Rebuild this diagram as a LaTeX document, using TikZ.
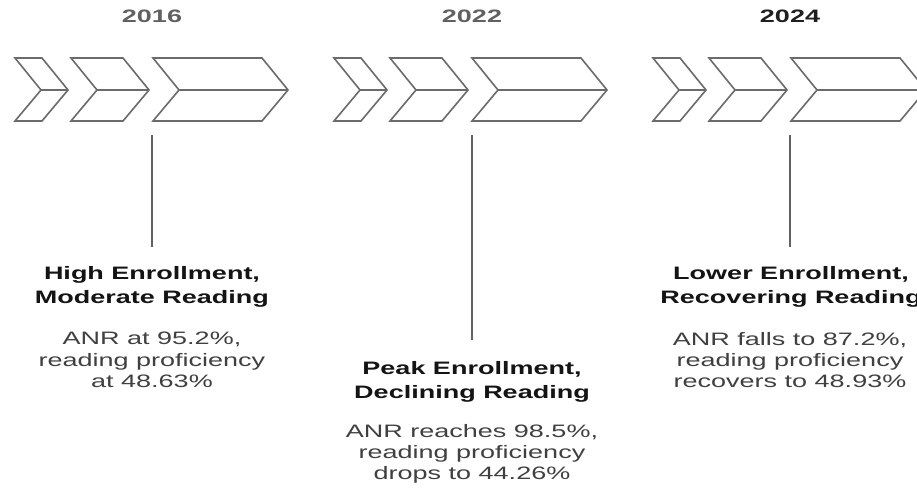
\documentclass[tikz,border=0pt]{standalone}
\usepackage{fontspec}
\setmainfont[FakeStretch=1.5]{Liberation Sans}
\begin{document}
\begin{tikzpicture}[x=1pt,y=-1pt,
  chev/.style={draw=black!58, line width=1.6pt, line join=miter},
  midln/.style={draw=black!58, line width=1.5pt},
  stem/.style={draw=black!62, line width=1.6pt},
  yeartxt/.style={anchor=base, inner sep=0pt, text=black!62, font={\fontsize{18}{22}\selectfont\bfseries}},
  yearbold/.style={yeartxt, text=black!88},
  titletxt/.style={anchor=north, inner sep=0pt, align=center, text=black!92, font={\fontsize{18}{24}\selectfont\bfseries}},
  bodytxt/.style={anchor=north, inner sep=0pt, align=center, text=black!75, font={\fontsize{18}{21.3}\selectfont}}
]
\useasboundingbox (0,0) rectangle (917,487);
\clip (0,0) rectangle (917,487);
\fill[white] (0,0) rectangle (917,487);

% chevron groups
\foreach \ox in {0,319,638}{
  \begin{scope}[xshift=\ox]
    % chevron 1
    \draw[chev] (15,58) -- (42,58) -- (68,90) -- (42,121) -- (15,121) -- (41,90) -- cycle;
    \draw[midln] (41,90) -- (68,90);
    % chevron 2
    \draw[chev] (71,58) -- (123,58) -- (149,90) -- (123,121) -- (71,121) -- (97,90) -- cycle;
    \draw[midln] (97,90) -- (149,90);
    % chevron 3
    \draw[chev] (153,58) -- (262,58) -- (288,90) -- (262,121) -- (153,121) -- (179,90) -- cycle;
    \draw[midln] (179,90) -- (288,90);
  \end{scope}
}

% years
\node[yeartxt] (y1) at (152,23) {2016};
\node[yeartxt] (y2) at (472,23) {2022};
\node[yearbold] (y3) at (790,23) {2024};

% stems
\coordinate (s1a) at (152,135); \coordinate (s1b) at (152,247);
\coordinate (s2a) at (472,135); \coordinate (s2b) at (472,340);
\coordinate (s3a) at (790,135); \coordinate (s3b) at (790,247);
\draw[stem] (s1a) -- (s1b);
\draw[stem] (s2a) -- (s2b);
\draw[stem] (s3a) -- (s3b);

% texts
\node[titletxt] (t1) at (152,266) {High Enrollment,\\Moderate Reading};
\node[bodytxt] (b1) at (152,332) {ANR at 95.2\%,\\reading proficiency\\at 48.63\%};

\node[titletxt] (t2) at (472,361) {Peak Enrollment,\\Declining Reading};
\node[bodytxt] (b2) at (472,424) {ANR reaches 98.5\%,\\reading proficiency\\drops to 44.26\%};

\node[titletxt] (t3) at (791,266) {Lower Enrollment,\\Recovering Reading};
\node[bodytxt] (b3) at (790,332) {ANR falls to 87.2\%,\\reading proficiency\\recovers to 48.93\%};
\end{tikzpicture}
\end{document}
